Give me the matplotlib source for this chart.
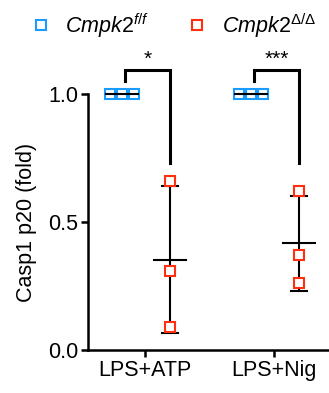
import numpy as np
import matplotlib
matplotlib.use("Agg")
import matplotlib.pyplot as plt
from matplotlib.lines import Line2D

plt.rcParams['font.family'] = ['Liberation Sans', 'DejaVu Sans']
plt.rcParams['mathtext.fontset'] = 'custom'
plt.rcParams['mathtext.rm'] = 'Liberation Sans'
plt.rcParams['mathtext.it'] = 'Liberation Sans:italic'

categories = ['LPS+ATP', 'LPS+Nig']
ff_values = [[1.0, 1.0, 1.0], [1.0, 1.0, 1.0]]
dd_values = [[0.66, 0.31, 0.09], [0.62, 0.37, 0.26]]
significance = ['*', '***']
ylabel = 'Casp1 p20 (fold)'
yticks = [0.0, 0.5, 1.0]

blue = '#1a9bff'
red = '#ff3010'

fig = plt.figure(figsize=(3.29, 3.93), dpi=100)
ax = fig.add_axes([0.2675, 0.1094, 0.7325, 0.6514])

x = np.arange(len(categories))
off_ff, off_dd = -0.178, 0.194
jitter = [-0.09, 0.0, 0.09]
mean_hw, cap_hw = 0.124, 0.062

for i in range(len(categories)):
    for vals, off, col in [(ff_values[i], off_ff, blue), (dd_values[i], off_dd, red)]:
        v = np.array(vals)
        m = v.mean()
        sd = v.std(ddof=1)
        xc = x[i] + off
        ax.plot([xc, xc], [m - sd, m + sd], color='black', lw=1.5, zorder=2, clip_on=False)
        for c in (m - sd, m + sd):
            ax.plot([xc - cap_hw, xc + cap_hw], [c, c], color='black', lw=1.5, zorder=2, clip_on=False)
        xs = xc + (np.array(jitter) if col == blue else np.zeros(len(v)))
        ax.plot(xs, v, 's', ms=7.2, mfc='white', mec=col, mew=1.5, ls='none', zorder=3, clip_on=False)
        ax.plot([xc - mean_hw, xc + mean_hw], [m, m], color='black', lw=1.5, zorder=4, clip_on=False)

# significance brackets
for i in range(len(categories)):
    xl = x[i] + off_ff + 0.02
    xr = x[i] + off_dd
    ytop = 1.092
    ax.plot([xl, xl, xr, xr], [1.05, ytop, ytop, 0.73], color='black', lw=2.2,
            clip_on=False, solid_joinstyle='miter', zorder=5)
    ax.text((xl + xr) / 2, ytop + 0.005, significance[i], ha='center', va='bottom',
            fontsize=15, clip_on=False)

ax.set_xlim(-0.442, 1.426)
ax.set_ylim(0, 1.0)
ax.set_xticks(x)
ax.set_xticklabels(categories)
ax.set_yticks(yticks)
ax.set_yticklabels(['0.0', '0.5', '1.0'])
ax.set_ylabel(ylabel, fontsize=15.5, labelpad=8)
ax.tick_params(labelsize=15.5, width=1.8, length=5, pad=2)
for s in ['top', 'right']:
    ax.spines[s].set_visible(False)
for s in ['left', 'bottom']:
    ax.spines[s].set_linewidth(1.8)

handles = [Line2D([], [], marker='s', ls='none', ms=7.2, mfc='white', mec=blue, mew=1.5),
           Line2D([], [], marker='s', ls='none', ms=7.2, mfc='white', mec=red, mew=1.5)]
labels = [r'$\mathit{Cmpk2}^{\mathit{f/f}}$', r'$\mathit{Cmpk2}^{\mathrm{\Delta/\Delta}}$']
fig.legend(handles, labels, loc='center left', bbox_to_anchor=(0.097, 0.935), ncol=2,
           frameon=False, fontsize=15.5, handlelength=0.8, handletextpad=0.75,
           columnspacing=1.8, borderpad=0, borderaxespad=0)

fig.savefig('out.png', dpi=100)
